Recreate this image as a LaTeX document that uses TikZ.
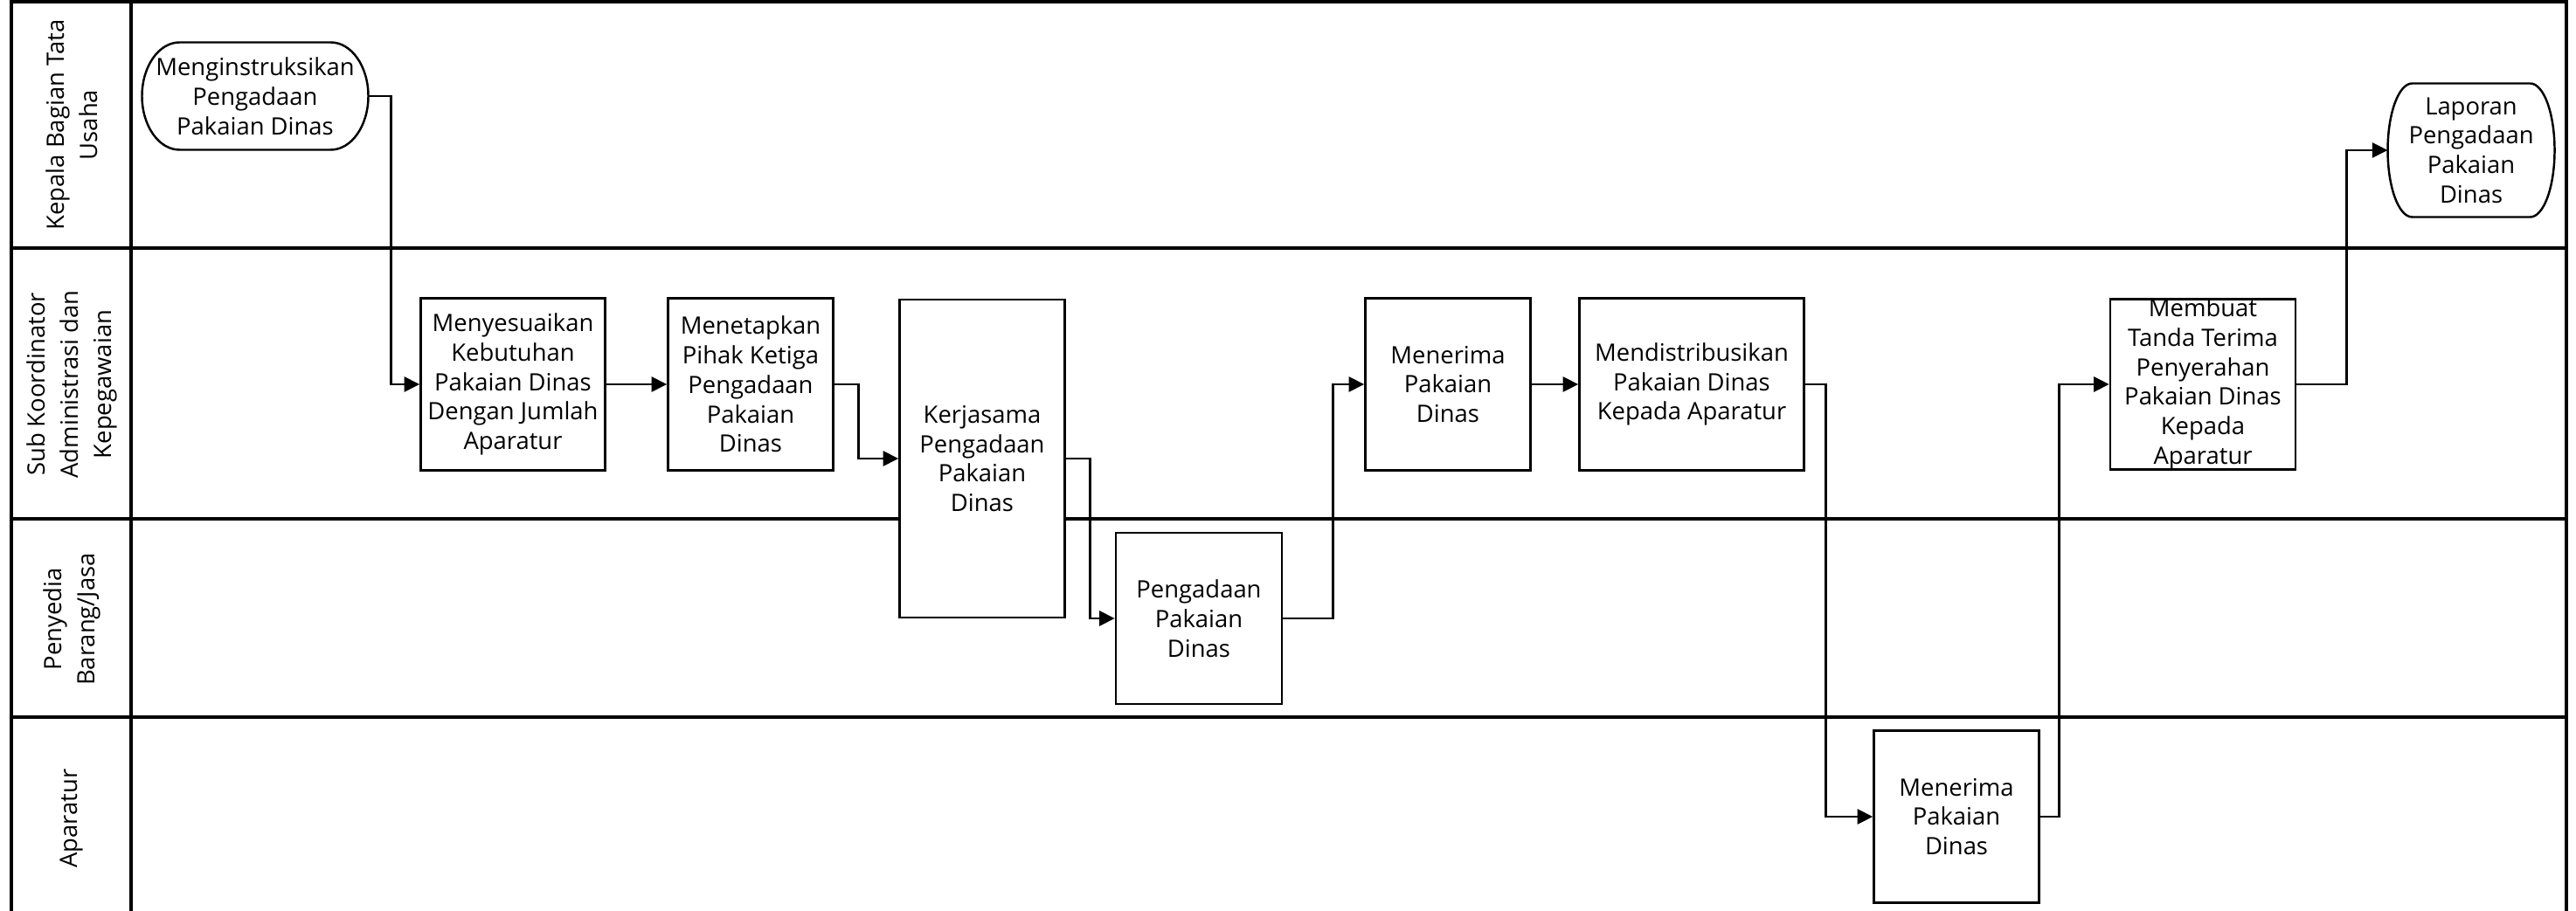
\documentclass[tikz,border=0pt]{standalone}
\usepackage{fontspec}
\setmainfont{Open Sans}
\usetikzlibrary{positioning,arrows.meta,calc}

\begin{document}
\begin{tikzpicture}[
        every node/.style={
            align=center,
            font=\fontsize{7.8}{9.6}\selectfont
        },
        box/.style={
            rectangle,
            draw,
            fill=white,
            line width=0.7pt,
            minimum height=1.97cm,
            inner sep=1pt
        },
        terminal/.style={
            inner sep=0pt,
            outer sep=0pt
        },
        lanelabel/.style={
            rotate=90,
            font=\fontsize{7.8}{10.8}\selectfont
        },
        outline/.style={line width=0.7pt},
        lane/.style={line width=1.1pt},
        arrow/.style={
            ->,
            >={Triangle[length=5pt,width=4.8pt]},
            line width=0.75pt
        }
    ]
    \useasboundingbox (0,0) rectangle (29.48,-10.43);

    % swimlanes
    \draw[lane] (0.13,-10.43) -- (0.13,-0.02) -- (29.37,-0.02) -- (29.37,-10.43);
    \draw[lane] (1.50,-0.02) -- (1.50,-10.43);
    \draw[lane] (0.13,-2.84) -- (29.37,-2.84);
    \draw[lane] (0.13,-5.94) -- (29.37,-5.94);
    \draw[lane] (0.13,-8.21) -- (29.37,-8.21);

    \node[lanelabel] (kabag) at (0.82,-1.43) {Kepala Bagian Tata\\Usaha};
    \node[lanelabel] (subkor) at (0.82,-4.40) {Sub Koordinator\\Administrasi dan\\Kepegawaian};
    \node[lanelabel] (penyedia) at (0.82,-7.09) {Penyedia\\Barang/Jasa};
    \node[lanelabel] (aparatur) at (0.82,-9.37) {Aparatur};

    % steps
    \node[terminal, minimum width=2.59cm, minimum height=1.23cm] (mulai) at (2.92,-1.10) {Menginstruksikan\\Pengadaan\\Pakaian Dinas};
    \node[box, minimum width=2.11cm] (sesuai) at (5.87,-4.40) {Menyesuaikan\\Kebutuhan\\Pakaian Dinas\\Dengan Jumlah\\Aparatur};
    \node[box, minimum width=1.89cm, node distance=2.72cm, right of=sesuai] (tetapkan) {Menetapkan\\Pihak Ketiga\\Pengadaan\\Pakaian\\Dinas};
    \node[box, minimum width=1.89cm, minimum height=3.64cm] (kerjasama) at (11.24,-5.25) {Kerjasama\\Pengadaan\\Pakaian\\Dinas};
    \node[box, minimum width=1.90cm, minimum height=1.96cm] (pengadaan) at (13.72,-7.08) {Pengadaan\\Pakaian\\Dinas};
    \node[box, minimum width=1.89cm] (terima) at (16.57,-4.40) {Menerima\\Pakaian\\Dinas};
    \node[box, minimum width=2.57cm, node distance=2.79cm, right of=terima] (distribusi) {Mendistribusikan\\Pakaian Dinas\\Kepada Aparatur};
    \node[box, minimum width=1.89cm] (terimaapr) at (22.39,-9.35) {Menerima\\Pakaian\\Dinas};
    \node[box, minimum width=2.12cm, minimum height=1.95cm,
        label={center:{Membuat\\Tanda Terima\\Penyerahan\\Pakaian Dinas\\Kepada\\Aparatur}}] (tandaterima) at (25.21,-4.40) {};
    \node[terminal, minimum width=1.91cm, minimum height=1.53cm] (laporan) at (28.28,-1.72) {Laporan\\Pengadaan\\Pakaian\\Dinas};

    % terminator outlines
    \foreach \tname/\tdepth in {mulai/0.43, laporan/0.28}
        \draw[outline] let \p1=(\tname.north), \p2=(\tname.south), \n1={(\y1-\y2)/2} in
            ([xshift=\tdepth cm]\tname.north west) -- ([xshift=-\tdepth cm]\tname.north east)
            arc[start angle=90, end angle=-90, x radius=\tdepth cm, y radius=\n1]
            -- ([xshift=\tdepth cm]\tname.south west)
            arc[start angle=270, end angle=90, x radius=\tdepth cm, y radius=\n1] -- cycle;

    % flow
    \draw[arrow] (mulai.east) -- ++(0.26,0) |- (sesuai.west);
    \draw[arrow] (sesuai) -- (tetapkan);
    \draw[arrow] (tetapkan.east) -- ++(0.28,0) |- (kerjasama.west);
    \draw[arrow] (kerjasama.east) -- ++(0.28,0) |- (pengadaan.west);
    \draw[arrow] (pengadaan.east) -- ++(0.57,0) |- (terima.west);
    \draw[arrow] (terima) -- (distribusi);
    \draw[arrow] (distribusi.east) -- ++(0.24,0) |- (terimaapr.west);
    \draw[arrow] (terimaapr.east) -- ++(0.22,0) |- (tandaterima.west);
    \draw[arrow] (tandaterima.east) -- ++(0.57,0) |- (laporan.west);
\end{tikzpicture}
\end{document}
